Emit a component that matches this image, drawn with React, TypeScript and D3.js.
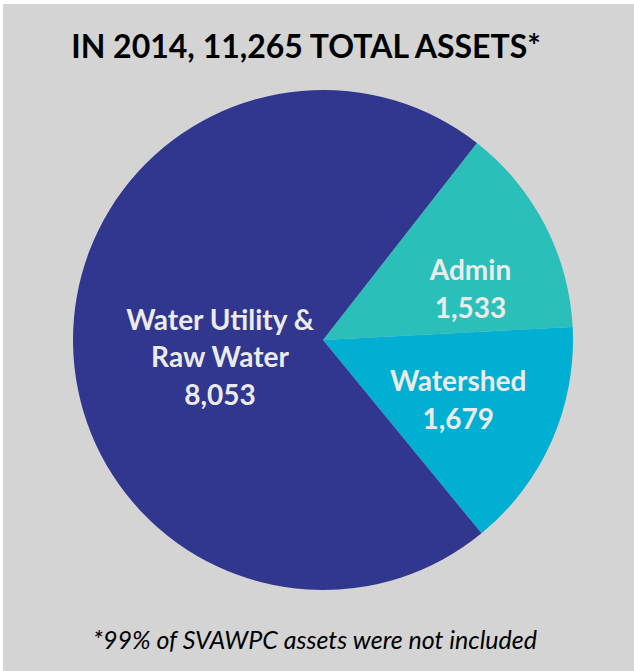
import React from "react";
import * as d3 from "d3";

const categories = ["Admin", "Watershed", "Water Utility & Raw Water"];
const labelLines = [["Admin"], ["Watershed"], ["Water Utility &", "Raw Water"]];
const values = [1533, 1679, 8053];
const colors = ["#2bbfb9", "#00afd1", "#31368f"];
const title = "IN 2014, 11,265 TOTAL ASSETS*";
const footnote = "*99% of SVAWPC assets were not included";

const W = 634;
const H = 671;
const cx = 323;
const cy = 340;
const R = 250;
// label placement: [angle (deg), radius]
const labelPos = [
  { angle: 71, r: 156 },
  { angle: 114, r: 148 },
  { angle: 260.6, r: 104.4 },
];

export default function App() {
  const pie = d3
    .pie<number>()
    .sort(null)
    .value((d) => d)
    .startAngle((38 * Math.PI) / 180)
    .endAngle((38 * Math.PI) / 180 + 2 * Math.PI);
  const arcs = pie(values);
  const arc = d3.arc<d3.PieArcDatum<number>>().innerRadius(0).outerRadius(R);
  const fmt = d3.format(",");
  const font = "Lato, 'Open Sans', sans-serif";
  const lineH = 37.5;

  return (
    <div style={{ position: "fixed", left: 0, top: 0 }}>
      <svg width={W} height={H} style={{ display: "block" }}>
        <rect x={0} y={0} width={W} height={H} fill="#ffffff" />
        <rect x={3} y={4} width={W - 3} height={H - 4} fill="#d4d4d4" />
        <text
          x={306}
          y={58}
          textAnchor="middle"
          fontFamily={font}
          fontWeight={700}
          fontSize={32}
          fill="#000"
        >
          {title}
        </text>
        <g transform={`translate(${cx},${cy})`}>
          {arcs.map((a, i) => (
            <path key={categories[i]} d={arc(a) || ""} fill={colors[i]} />
          ))}
          {arcs.map((a, i) => {
            const ang = (labelPos[i].angle * Math.PI) / 180;
            const x = Math.sin(ang) * labelPos[i].r;
            const y = -Math.cos(ang) * labelPos[i].r;
            const lines = [...labelLines[i], fmt(a.data)];
            const y0 = y - ((lines.length - 1) * lineH) / 2 + 10;
            return (
              <text
                key={"l" + i}
                textAnchor="middle"
                fontFamily={font}
                fontWeight={700}
                fontSize={28}
                fill="#ebebeb"
              >
                {lines.map((ln, j) => (
                  <tspan key={j} x={x} y={y0 + j * lineH}>
                    {ln}
                  </tspan>
                ))}
              </text>
            );
          })}
        </g>
        <text
          x={315}
          y={649}
          textAnchor="middle"
          fontFamily={font}
          fontStyle="italic"
          fontSize={25}
          fill="#000"
        >
          {footnote}
        </text>
      </svg>
    </div>
  );
}
